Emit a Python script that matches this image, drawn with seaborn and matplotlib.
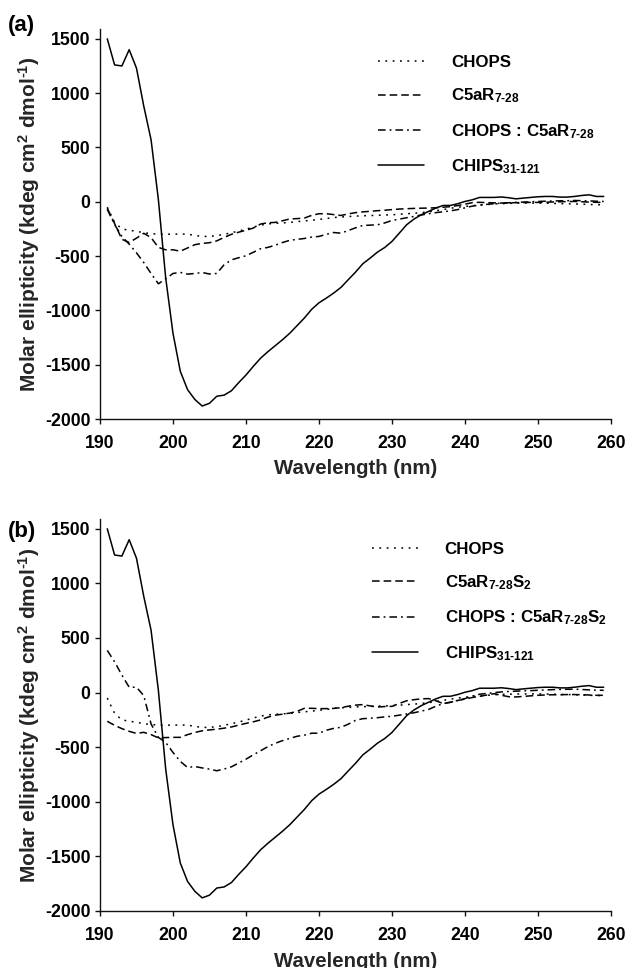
"""
CD spectra of CHOPS / C5aR peptides / CHIPS (panels a and b)
"""

import matplotlib
matplotlib.use("Agg")
import matplotlib.pyplot as plt
import numpy as np
import pandas as pd
import seaborn as sns

# wavelength grid (nm), one reading per nm
wavelength = np.arange(191, 260)

# molar ellipticity, kdeg cm2 dmol-1
chips = [1500, 1260, 1250, 1400, 1230, 880, 570, 20, -700, -1210,
         -1560, -1730, -1820, -1880, -1855, -1790, -1780, -1740, -1665, -1595,
         -1515, -1440, -1380, -1325, -1270, -1210, -1140, -1070, -990, -930,
         -887, -841, -789, -718, -648, -571, -519, -464, -421, -365,
         -289, -212, -160, -120, -89, -58, -34, -34, -18, 3,
         18, 40, 40, 40, 44, 37, 27, 34, 40, 46,
         49, 49, 43, 43, 49, 58, 64, 49, 49]

chops = [-50, -190, -250, -262, -272, -285, -293, -298, -298, -298,
         -297, -298, -310, -319, -319, -312, -300, -285, -270, -252,
         -233, -215, -204, -198, -195, -190, -183, -176, -170, -162,
         -155, -145, -140, -136, -132, -129, -127, -124, -122, -120,
         -115, -110, -106, -100, -92, -82, -72, -60, -50, -43,
         -36, -30, -25, -20, -17, -15, -13, -12, -12, -12,
         -13, -15, -17, -18, -20, -22, -25, -27, -27]

c5ar = [-60, -200, -345, -375, -335, -290, -330, -420, -442, -442,
        -455, -425, -395, -383, -377, -360, -328, -300, -280, -262,
        -242, -205, -193, -190, -175, -158, -155, -150, -125, -110,
        -110, -118, -126, -112, -100, -93, -88, -82, -78, -72,
        -67, -64, -61, -59, -58, -55, -50, -45, -35, -22,
        -8, -5, -8, -10, -12, -10, -8, -7, -6, -6,
        -4, -2, 0, 2, 3, 0, -3, -5, -6]

chops_c5ar = [-70, -210, -319, -390, -470, -560, -660, -755, -710, -660,
              -650, -666, -660, -651, -665, -660, -580, -535, -515, -497,
              -465, -432, -420, -400, -375, -355, -346, -338, -325, -319,
              -300, -283, -289, -265, -240, -218, -215, -212, -195, -172,
              -160, -147, -135, -122, -110, -100, -92, -84, -72, -56,
              -40, -30, -24, -18, -12, -9, -6, -3, 0, 3,
              5, 7, 9, 10, 12, 10, 8, 5, 3]

c5ar_s2 = [-263, -300, -330, -355, -374, -364, -385, -415, -412, -410,
           -410, -385, -365, -350, -342, -335, -326, -315, -298, -282,
           -268, -250, -225, -207, -198, -188, -172, -144, -144, -147,
           -147, -145, -138, -125, -115, -110, -122, -132, -128, -126,
           -100, -75, -65, -58, -55, -75, -100, -90, -72, -60,
           -45, -35, -22, -10, -25, -38, -40, -35, -30, -25,
           -22, -20, -20, -18, -18, -20, -22, -25, -25]

chops_c5ar_s2 = [386, 282, 160, 49, 49, -28, -288, -410, -456, -548,
                 -630, -686, -677, -690, -701, -716, -700, -680, -645, -610,
                 -570, -533, -495, -465, -440, -420, -400, -390, -372, -372,
                 -345, -328, -318, -290, -255, -239, -235, -230, -223, -217,
                 -207, -196, -185, -170, -155, -125, -101, -88, -72, -55,
                 -32, -15, -8, 0, 6, 10, 13, 16, 18, 21,
                 24, 27, 29, 30, 31, 28, 25, 22, 21]

HY = "\u2010"  # real hyphen, mathtext would turn '-' into a minus
lab_chops = "CHOPS"
lab_c5ar = f"C5aR$_{{7{HY}28}}$"
lab_chops_c5ar = f"CHOPS : C5aR$_{{7{HY}28}}$"
lab_c5ar_s2 = f"C5aR$_{{7{HY}28}}$S$_2$"
lab_chops_c5ar_s2 = f"CHOPS : C5aR$_{{7{HY}28}}$S$_2$"
lab_chips = f"CHIPS$_{{31{HY}121}}$"

y_ticks = [-2000, -1500, -1000, -500, 0, 500, 1000, 1500]
x_ticks = [190, 200, 210, 220, 230, 240, 250, 260]

sns.set_theme(style="ticks")
plt.rcParams.update({
    "font.family": ["Liberation Sans", "DejaVu Sans"],
    "font.weight": "bold",
    "axes.labelweight": "bold",
    "axes.unicode_minus": False,
    "mathtext.fontset": "custom",
    "mathtext.rm": "Liberation Sans:bold",
    "mathtext.it": "Liberation Sans:bold",
    "mathtext.bf": "Liberation Sans:bold",
    "mathtext.default": "rm",
    "text.color": "black",
    "axes.edgecolor": "#111111",
    "axes.linewidth": 1.0,
    "xtick.color": "#111111",
    "ytick.color": "#111111",
    "xtick.labelcolor": "black",
    "ytick.labelcolor": "black",
})


def make_frame(series):
    rows = []
    for name, vals in series:
        rows.append(pd.DataFrame({"wl": wavelength, "value": vals, "series": name}))
    return pd.concat(rows, ignore_index=True)


def draw_panel(ax, series, leg_anchor):
    df = make_frame(series)
    names = [s[0] for s in series]
    dash_styles = [(1.2, 3.6), (5.0, 2.6), (5.0, 2.6, 1.2, 2.6), ""]
    sns.lineplot(data=df, x="wl", y="value", style="series", style_order=names,
                 dashes=dict(zip(names, dash_styles)), color="black",
                 linewidth=1.1, estimator=None, sort=False, ax=ax)
    ax.set_xlim(190, 260)
    ax.set_ylim(-2000, 1590)
    ax.set_xticks(x_ticks)
    ax.set_yticks(y_ticks)
    ax.tick_params(axis="both", labelsize=12.7, length=3.5, width=1.0)
    ax.tick_params(axis="x", pad=8)
    ax.tick_params(axis="y", pad=3.5)
    for t in ax.get_xticklabels() + ax.get_yticklabels():
        t.set_fontweight("bold")
    ax.set_xlabel("Wavelength (nm)", fontsize=14.7)
    ax.set_ylabel(f"Molar ellipticity (kdeg cm$^2$ dmol$^{{{HY}1}}$)", fontsize=15)
    ax.yaxis.set_label_coords(-0.113, 0.5)
    sns.despine(ax=ax)
    sns.move_legend(ax, "upper left", bbox_to_anchor=leg_anchor, frameon=False,
                    title=None, fontsize=12.2, handlelength=2.7, handletextpad=1.6,
                    labelspacing=0.98, borderpad=0, borderaxespad=0)


fig = plt.figure(figsize=(6.3, 9.68), dpi=100)
ax_a = fig.add_axes([0.1587, 0.5671, 0.8111, 0.4029])
ax_b = fig.add_axes([0.1587, 0.0589, 0.8111, 0.4050])

draw_panel(ax_a, [(lab_chops, chops), (lab_c5ar, c5ar),
                  (lab_chops_c5ar, chops_c5ar), (lab_chips, chips)], (0.544, 0.933))
draw_panel(ax_b, [(lab_chops, chops), (lab_c5ar_s2, c5ar_s2),
                  (lab_chops_c5ar_s2, chops_c5ar_s2), (lab_chips, chips)], (0.532, 0.942))

ax_a.xaxis.set_label_coords(0.5, -0.102)
ax_b.xaxis.set_label_coords(0.5, -0.105)

fig.text(0.012, 1 - 25 / 968, "(a)", fontsize=16, fontweight="bold", va="center", ha="left")
fig.text(0.012, 1 - 531 / 968, "(b)", fontsize=16, fontweight="bold", va="center", ha="left")

fig.savefig("out.png", dpi=100)
plt.close(fig)
